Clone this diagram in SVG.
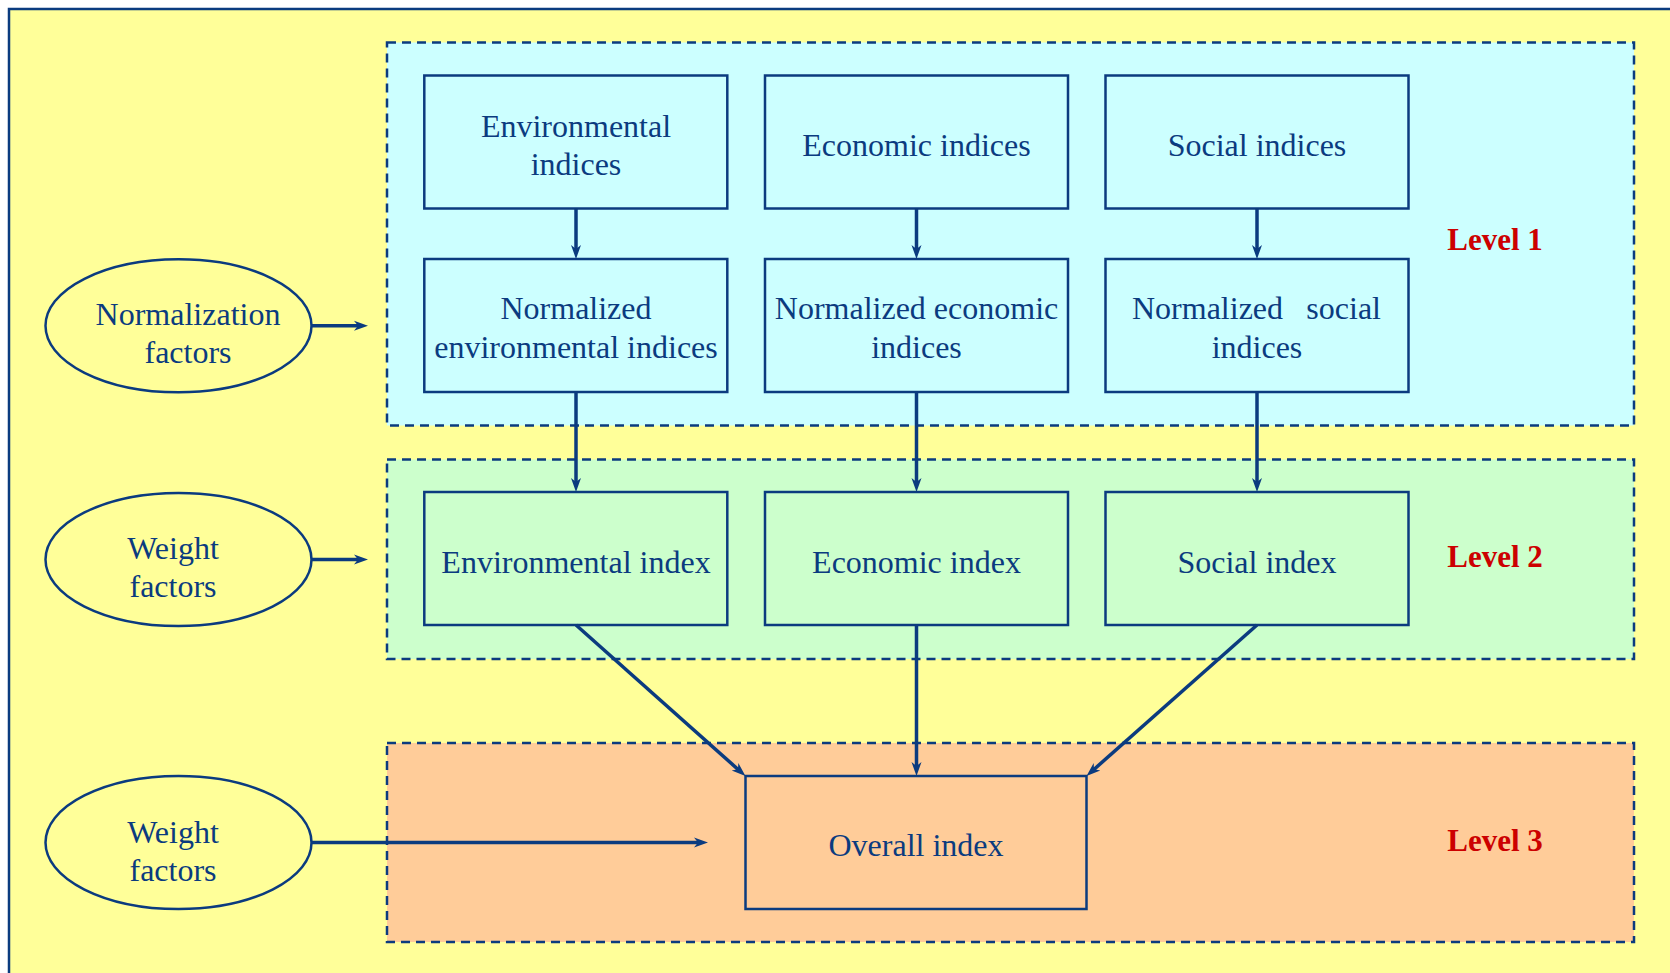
<svg xmlns="http://www.w3.org/2000/svg" width="1670" height="973" viewBox="0 0 1670 973">
<style>
  .lvl{stroke:#0B3B7F;stroke-width:2.5;stroke-dasharray:9 6}
  .box{stroke:#0B3B7F;stroke-width:2.5}
  .ell{fill:#FFFF99;stroke:#0B3B7F;stroke-width:2.5}
  .t{font-family:"Liberation Serif","Times New Roman",serif;font-size:32px;fill:#0B3B7F;text-anchor:middle}
  .lv{font-family:"Liberation Serif","Times New Roman",serif;font-size:31px;font-weight:bold;fill:#CC0000;text-anchor:middle}
  .c1{fill:#CCFFFF}
  .c2{fill:#CCFFCC}
  .c3{fill:#FFCC99}
  .ar{fill:none;stroke:#0B3B7F;stroke-width:3.5;marker-end:url(#ah)}
</style>
<defs>
  <marker id="ah" markerWidth="16" markerHeight="12" refX="6" refY="6" orient="auto" markerUnits="userSpaceOnUse">
    <path d="M0,1 L14,6 L0,11 L4,6 Z" fill="#0B3B7F"/>
  </marker>
</defs>
<rect x="0" y="0" width="1670" height="973" fill="#FFFFFF"/>
<rect x="9" y="9" width="1700" height="1000" fill="#FFFF99" stroke="#0B3B7F" stroke-width="2.5"/>

<g id="level1">
  <rect class="lvl c1" x="387" y="42.5" width="1247" height="383"/>
  <text class="lv" x="1495" y="250">Level 1</text>
</g>
<g id="level2">
  <rect class="lvl c2" x="387" y="459.5" width="1247" height="199.5"/>
  <text class="lv" x="1495" y="567">Level 2</text>
</g>
<g id="level3">
  <rect class="lvl c3" x="387" y="743" width="1247" height="199"/>
  <text class="lv" x="1495" y="851">Level 3</text>
</g>

<g id="env-indices">
  <rect class="box c1" x="424.3" y="75.5" width="303" height="133"/>
  <text class="t" x="576" y="137">Environmental</text>
  <text class="t" x="576" y="175">indices</text>
</g>
<g id="eco-indices">
  <rect class="box c1" x="765" y="75.5" width="303" height="133"/>
  <text class="t" x="916.5" y="156">Economic indices</text>
</g>
<g id="soc-indices">
  <rect class="box c1" x="1105.5" y="75.5" width="303" height="133"/>
  <text class="t" x="1257" y="156">Social indices</text>
</g>

<g id="norm-env">
  <rect class="box c1" x="424.3" y="259" width="303" height="133"/>
  <text class="t" x="576" y="319">Normalized</text>
  <text class="t" x="576" y="358">environmental indices</text>
</g>
<g id="norm-eco">
  <rect class="box c1" x="765" y="259" width="303" height="133"/>
  <text class="t" x="916.5" y="319">Normalized economic</text>
  <text class="t" x="916.5" y="358">indices</text>
</g>
<g id="norm-soc">
  <rect class="box c1" x="1105.5" y="259" width="303" height="133"/>
  <text class="t" x="1132" y="319" style="text-anchor:start">Normalized</text>
  <text class="t" x="1381" y="319" style="text-anchor:end">social</text>
  <text class="t" x="1257" y="358">indices</text>
</g>

<g id="env-index">
  <rect class="box c2" x="424.3" y="492" width="303" height="133"/>
  <text class="t" x="576" y="573">Environmental index</text>
</g>
<g id="eco-index">
  <rect class="box c2" x="765" y="492" width="303" height="133"/>
  <text class="t" x="916.5" y="573">Economic index</text>
</g>
<g id="soc-index">
  <rect class="box c2" x="1105.5" y="492" width="303" height="133"/>
  <text class="t" x="1257" y="573">Social index</text>
</g>

<g id="overall">
  <rect class="box c3" x="745.5" y="776" width="341" height="133"/>
  <text class="t" x="916" y="856">Overall index</text>
</g>

<g id="norm-factors">
  <ellipse class="ell" cx="178.5" cy="325.8" rx="133" ry="66.5"/>
  <text class="t" x="188" y="325">Normalization</text>
  <text class="t" x="188" y="363">factors</text>
</g>
<g id="weight-factors-1">
  <ellipse class="ell" cx="178.5" cy="559.5" rx="133" ry="66.5"/>
  <text class="t" x="173" y="559">Weight</text>
  <text class="t" x="173" y="597">factors</text>
</g>
<g id="weight-factors-2">
  <ellipse class="ell" cx="178.5" cy="842.5" rx="133" ry="66.5"/>
  <text class="t" x="173" y="843">Weight</text>
  <text class="t" x="173" y="881">factors</text>
</g>

<g id="connectors">
  <path class="ar" d="M576,208.5 V251"/>
  <path class="ar" d="M916.5,208.5 V251"/>
  <path class="ar" d="M1257,208.5 V251"/>
  <path class="ar" d="M576,392 V484"/>
  <path class="ar" d="M916.5,392 V484"/>
  <path class="ar" d="M1257,392 V484"/>
  <path class="ar" d="M916.5,625 V768"/>
  <path class="ar" d="M576,625 L739.5,770.7"/>
  <path class="ar" d="M1257,625 L1092.5,770.7"/>
  <path class="ar" d="M311.5,325.8 H360"/>
  <path class="ar" d="M311.5,559.5 H360"/>
  <path class="ar" d="M311.5,842.5 H700"/>
</g>
</svg>
